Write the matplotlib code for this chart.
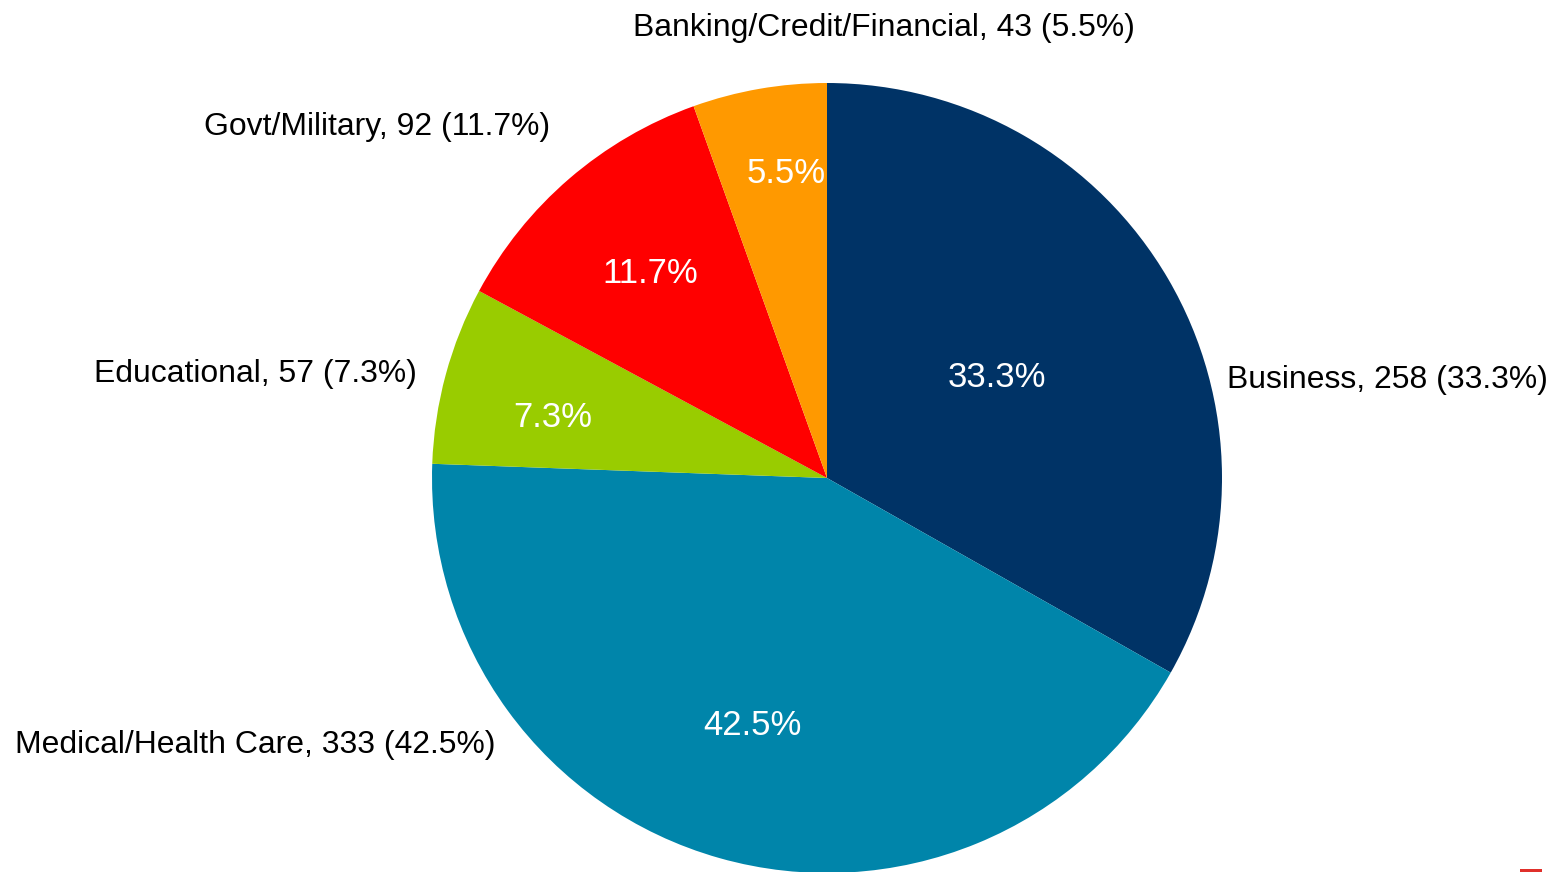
import numpy as np
import matplotlib
matplotlib.use("Agg")
import matplotlib.pyplot as plt
from matplotlib.patches import Rectangle

categories = ["Business", "Medical/Health Care", "Educational", "Govt/Military",
              "Banking/Credit/Financial"]
counts = [258, 333, 57, 92, 43]
percents = [33.3, 42.5, 7.3, 11.7, 5.5]
colors = ["#003366", "#0085AA", "#99CC00", "#FF0000", "#FF9900"]

# layout (style): label anchors in pie-radius units (x, baseline y)
inner_pos = [(0.4304, 0.2304), (-0.1899, -0.6506), (-0.6937, 0.1291),
             (-0.4481, 0.4937), (-0.1038, 0.7468)]
outer_pos = [(1.0127, 0.2278, "left"), (-0.8405, -0.6962, "right"),
             (-1.038, 0.2430, "right"), (-0.7013, 0.8684, "right"),
             (0.1443, 1.119, "center")]

plt.rcParams["font.family"] = ["Liberation Sans", "DejaVu Sans"]

W, H = 1558, 872
fig = plt.figure(figsize=(W / 100, H / 100), dpi=100)
cx, cy, R = 827, 478, 395
ax = fig.add_axes([(cx - R) / W, (H - cy - R) / H, 2 * R / W, 2 * R / H])
ax.set_axis_off()

wedges, _ = ax.pie(percents, colors=colors, startangle=90, counterclock=False,
                   radius=1.0, wedgeprops=dict(linewidth=0))
for w in wedges:
    w.set_clip_on(False)
ax.set_xlim(-1, 1)
ax.set_ylim(-1, 1)
ax.set_aspect("equal")

for name, n, pct, (ix, iy), (ox, oy, ha) in zip(categories, counts, percents,
                                               inner_pos, outer_pos):
    ax.text(ix, iy, f"{pct:.1f}%", color="white", fontsize=25,
            ha="center", va="baseline", clip_on=False)
    ax.text(ox, oy, f"{name}, {n} ({pct:.1f}%)", color="black", fontsize=22.95,
            ha=ha, va="baseline", clip_on=False)

fig.add_artist(Rectangle((1520 / W, 0), 22 / W, 3 / H, transform=fig.transFigure,
                         facecolor="#E0302B", edgecolor="none"))

fig.savefig("out.png", dpi=100)
